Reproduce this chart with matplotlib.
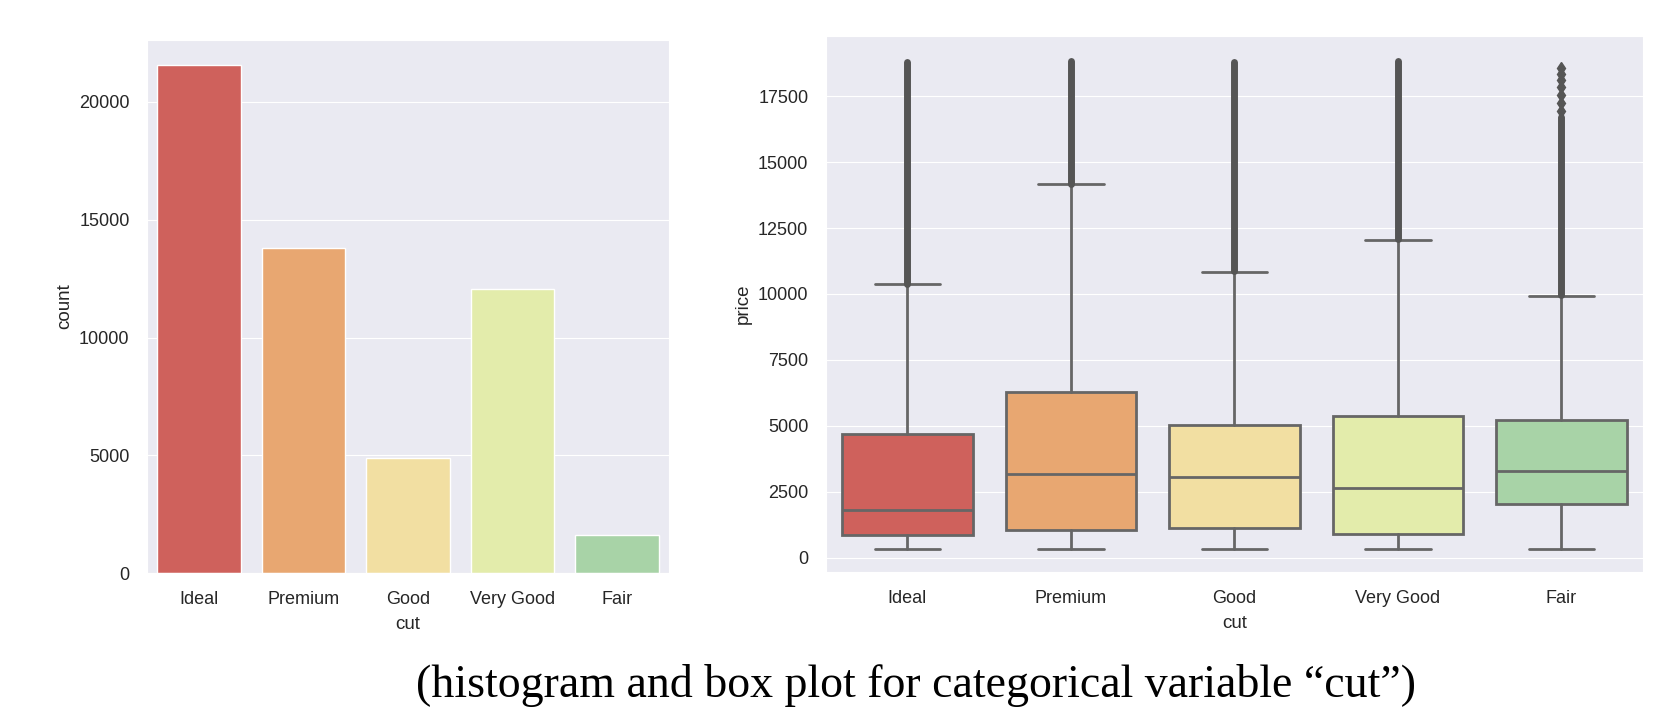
import numpy as np
import matplotlib
matplotlib.use("Agg")
import matplotlib.pyplot as plt
import seaborn as sns

cuts = ["Ideal", "Premium", "Good", "Very Good", "Fair"]
counts = [21551, 13791, 4906, 12082, 1610]
colors = ["#cf615c", "#e8a771", "#f2dfa2", "#e3ecab", "#a8d3a7"]

# box statistics of price per cut
whislo = [326, 326, 327, 336, 337]
q1 = [878, 1046, 1145, 912, 2050]
med = [1810, 3185, 3050, 2648, 3282]
q3 = [4678, 6296, 5028, 5373, 5206]
whishi = [10370, 14164, 10845, 12060, 9930]
# dense run of outliers (low, high) per cut
flier_lo = [10380, 14180, 10860, 12070, 9950]
flier_hi = [18806, 18823, 18788, 18818, 16700]
# sparse outliers at the top of Fair
fair_dots = [16950, 17250, 17550, 17850, 18100, 18350, 18574]

sns.set_style("darkgrid")
plt.rcParams["font.family"] = ["Liberation Sans", "DejaVu Sans"]
plt.rcParams["text.color"] = "#262626"
plt.rcParams["axes.labelcolor"] = "#262626"
plt.rcParams["xtick.color"] = "#262626"
plt.rcParams["ytick.color"] = "#262626"

fig = plt.figure(figsize=(16.62, 7.2), dpi=100)
ax1 = fig.add_axes([0.0884, 0.2038, 0.3143, 0.7407])
ax2 = fig.add_axes([0.4968, 0.2051, 0.4919, 0.7453])

# countplot
x = np.arange(len(cuts))
ax1.bar(x, counts, width=0.8, color=colors, edgecolor="white", linewidth=1)
ax1.set_xlim(-0.5, len(cuts) - 0.5)
ax1.set_ylim(0, max(counts) * 1.05)
ax1.set_xticks(x)
ax1.set_xticklabels(cuts)
ax1.set_yticks([0, 5000, 10000, 15000, 20000])
ax1.set_xlabel("cut", fontsize=13.5, labelpad=6)
ax1.set_ylabel("count", fontsize=13.5)

# boxplot
gray = "#666666"
stats = []
for i, c in enumerate(cuts):
    stats.append(dict(label=c, whislo=whislo[i], q1=q1[i], med=med[i],
                      q3=q3[i], whishi=whishi[i], fliers=[]))
bp = ax2.bxp(stats, positions=x, widths=0.8, patch_artist=True, showfliers=False,
             boxprops=dict(edgecolor=gray, linewidth=2),
             whiskerprops=dict(color=gray, linewidth=2),
             capprops=dict(color=gray, linewidth=2),
             medianprops=dict(color=gray, linewidth=2))
for patch, col in zip(bp["boxes"], colors):
    patch.set_facecolor(col)

for i in range(len(cuts)):
    ax2.plot([x[i], x[i]], [flier_lo[i], flier_hi[i]], color="#555555",
             linewidth=5, solid_capstyle="round", zorder=3)
ax2.plot([x[4]] * len(fair_dots), fair_dots, linestyle="none", marker="d",
         markersize=6, color="#555555", zorder=3)

ax2.set_xlim(-0.5, len(cuts) - 0.5)
ax2.set_ylim(-550, 19790)
ax2.set_yticks(np.arange(0, 17501, 2500))
ax2.set_xticks(x)
ax2.set_xticklabels(cuts)
ax2.set_xlabel("cut", fontsize=13.5, labelpad=6)
ax2.set_ylabel("price", fontsize=13.5)

for ax in (ax1, ax2):
    ax.grid(False, axis="x")
    ax.tick_params(labelsize=13, pad=9)

fig.text(0.551, 0.048, "(histogram and box plot for categorical variable \u201ccut\u201d)",
         family=["Liberation Serif", "DejaVu Serif"], fontsize=33, color="black",
         ha="center", va="center")

fig.savefig("out.png", dpi=100)
